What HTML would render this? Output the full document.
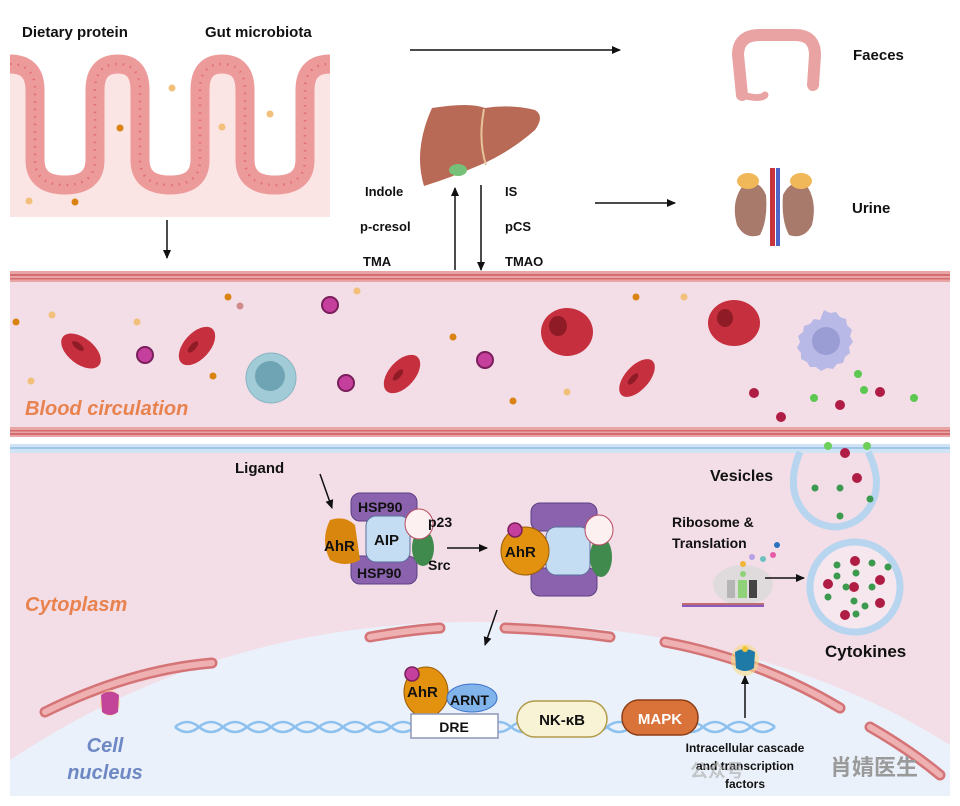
<!DOCTYPE html>
<html><head><meta charset="utf-8"><style>
html,body{margin:0;padding:0;background:#fff}
svg{display:block}
text{font-family:"Liberation Sans",Arial,sans-serif;font-weight:bold;fill:#111}
</style></head><body>
<svg width="960" height="806" viewBox="0 0 960 806" xmlns="http://www.w3.org/2000/svg">
<defs>
<marker id="ar" markerWidth="10" markerHeight="10" refX="8" refY="5" orient="auto" markerUnits="userSpaceOnUse"><path d="M0,1 L9,5 L0,9 Z" fill="#111"/></marker>
</defs>
<!-- intestine -->
<path d="M10,64 Q35,64 35,90 L35,160 Q35,185 65,185 Q95,185 95,160 L95,90 Q95,64 118,64 Q140,64 140,90 L140,160 Q140,185 170,185 Q200,185 200,160 L200,90 Q200,64 222,64 Q245,64 245,90 L245,160 Q245,185 275,185 Q305,185 305,160 L305,90 Q305,64 330,64 L330,217 L10,217 Z" fill="#fbe4e4"/>
<path d="M10,64 Q35,64 35,90 L35,160 Q35,185 65,185 Q95,185 95,160 L95,90 Q95,64 118,64 Q140,64 140,90 L140,160 Q140,185 170,185 Q200,185 200,160 L200,90 Q200,64 222,64 Q245,64 245,90 L245,160 Q245,185 275,185 Q305,185 305,160 L305,90 Q305,64 330,64" fill="none" stroke="#ec9a9a" stroke-width="19"/>
<path d="M10,64 Q35,64 35,90 L35,160 Q35,185 65,185 Q95,185 95,160 L95,90 Q95,64 118,64 Q140,64 140,90 L140,160 Q140,185 170,185 Q200,185 200,160 L200,90 Q200,64 222,64 Q245,64 245,90 L245,160 Q245,185 275,185 Q305,185 305,160 L305,90 Q305,64 330,64" fill="none" stroke="#e46f74" stroke-width="2.5" stroke-dasharray="1.5 6"/>
<g fill="#f2c07a"><circle cx="172" cy="88" r="3.5"/><circle cx="222" cy="127" r="3.5"/><circle cx="270" cy="114" r="3.5"/><circle cx="29" cy="201" r="3.5"/></g>
<g fill="#d98313"><circle cx="120" cy="128" r="3.5"/><circle cx="75" cy="202" r="3.5"/></g>
<text x="22" y="37" font-size="15">Dietary protein</text>
<text x="205" y="37" font-size="15">Gut microbiota</text>
<line x1="167" y1="220" x2="167" y2="258" stroke="#111" stroke-width="1.5" marker-end="url(#ar)"/>
<line x1="410" y1="50" x2="620" y2="50" stroke="#111" stroke-width="1.5" marker-end="url(#ar)"/>
<!-- colon -->
<path d="M742,95 L738,55 Q738,35 760,35 L795,35 Q815,35 815,55 L813,85" fill="none" stroke="#e9a3a3" stroke-width="12" stroke-linecap="round"/>
<path d="M742,95 Q760,100 765,95" fill="none" stroke="#e9a3a3" stroke-width="7" stroke-linecap="round"/>
<text x="853" y="60" font-size="15">Faeces</text>
<!-- liver -->
<path d="M432,108 Q470,102 485,108 Q510,104 535,110 Q545,116 535,130 Q510,152 480,165 Q450,178 424,186 Q413,150 432,108 Z" fill="#b86a57"/>
<path d="M484,109 Q478,140 486,165" stroke="#e7c39c" stroke-width="2" fill="none"/>
<ellipse cx="458" cy="170" rx="9" ry="6" fill="#77c07a"/>
<line x1="455" y1="270" x2="455" y2="188" stroke="#111" stroke-width="1.5" marker-end="url(#ar)"/>
<line x1="481" y1="185" x2="481" y2="270" stroke="#111" stroke-width="1.5" marker-end="url(#ar)"/>
<text x="365" y="196" font-size="13">Indole</text>
<text x="360" y="231" font-size="13">p-cresol</text>
<text x="363" y="266" font-size="13">TMA</text>
<text x="505" y="196" font-size="13">IS</text>
<text x="505" y="231" font-size="13">pCS</text>
<text x="505" y="266" font-size="13">TMAO</text>
<line x1="595" y1="203" x2="675" y2="203" stroke="#111" stroke-width="1.5" marker-end="url(#ar)"/>
<!-- kidneys -->
<path d="M745,183 Q760,180 766,195 Q768,220 760,235 Q745,240 737,225 Q730,200 745,183Z" fill="#a77a6c"/>
<path d="M805,183 Q790,180 783,195 Q781,220 789,235 Q804,240 812,225 Q818,200 805,183Z" fill="#a77a6c"/>
<ellipse cx="748" cy="181" rx="11" ry="8" fill="#f1b85a"/>
<ellipse cx="801" cy="181" rx="11" ry="8" fill="#f1b85a"/>
<rect x="770" y="168" width="5" height="78" fill="#c8343c"/><rect x="776" y="168" width="4" height="78" fill="#4e65c8"/>
<text x="852" y="213" font-size="15">Urine</text>
<!-- blood vessel -->
<rect x="10" y="272" width="940" height="162" fill="#f3dde6"/>
<rect x="10" y="271" width="940" height="11" fill="#e9a5a5"/>
<rect x="10" y="274" width="940" height="2" fill="#d46b6e"/><rect x="10" y="278" width="940" height="1.5" fill="#d46b6e"/>
<rect x="10" y="427" width="940" height="10" fill="#e9a5a5"/>
<rect x="10" y="430" width="940" height="1.5" fill="#d46b6e"/><rect x="10" y="433" width="940" height="2" fill="#d46b6e"/>
<g fill="#c52f3e">
<ellipse cx="81" cy="351" rx="23" ry="13" transform="rotate(38 81 351)"/>
<ellipse cx="197" cy="346" rx="23" ry="13" transform="rotate(-48 197 346)"/>
<ellipse cx="402" cy="374" rx="23" ry="13" transform="rotate(-48 402 374)"/>
<ellipse cx="637" cy="378" rx="23" ry="12" transform="rotate(-48 637 378)"/>
<ellipse cx="567" cy="332" rx="26" ry="24"/>
<ellipse cx="734" cy="323" rx="26" ry="23"/>
</g>
<g fill="#8e1b26"><ellipse cx="558" cy="326" rx="9" ry="10"/><ellipse cx="725" cy="318" rx="8" ry="9"/>
<ellipse cx="78" cy="346" rx="7" ry="3" transform="rotate(38 78 346)"/><ellipse cx="193" cy="347" rx="7" ry="3" transform="rotate(-48 193 347)"/><ellipse cx="398" cy="375" rx="7" ry="3" transform="rotate(-48 398 375)"/><ellipse cx="633" cy="379" rx="7" ry="3" transform="rotate(-48 633 379)"/></g>
<circle cx="271" cy="378" r="25" fill="#a1ccd7" stroke="#86b4c0"/><circle cx="270" cy="376" r="15" fill="#6ea4b4"/>
<path d="M824,310 l6,3 6,-1 4,5 6,2 1,6 5,5 -2,6 3,6 -4,5 1,6 -5,4 -2,6 -6,1 -4,5 -6,-1 -6,3 -5,-4 -6,0 -3,-5 -6,-3 0,-6 -4,-5 3,-6 -2,-6 5,-4 1,-6 6,-2 4,-5 6,1z" fill="#b8b9e6"/><circle cx="826" cy="341" r="14" fill="#9a9cd4"/>
<g fill="#c53f9d" stroke="#7a1f5c" stroke-width="2"><circle cx="145" cy="355" r="8"/><circle cx="330" cy="305" r="8"/><circle cx="346" cy="383" r="8"/><circle cx="485" cy="360" r="8"/><circle cx="318" cy="455" r="8"/></g>
<g fill="#d98313"><circle cx="16" cy="322" r="3.5"/><circle cx="228" cy="297" r="3.5"/><circle cx="213" cy="376" r="3.5"/><circle cx="453" cy="337" r="3.5"/><circle cx="513" cy="401" r="3.5"/><circle cx="636" cy="297" r="3.5"/></g>
<g fill="#f2c07a"><circle cx="52" cy="315" r="3.5"/><circle cx="137" cy="322" r="3.5"/><circle cx="31" cy="381" r="3.5"/><circle cx="357" cy="291" r="3.5"/><circle cx="567" cy="392" r="3.5"/><circle cx="684" cy="297" r="3.5"/></g>
<circle cx="240" cy="306" r="3.5" fill="#d08a8e"/>
<g fill="#b01d44"><circle cx="754" cy="393" r="5"/><circle cx="840" cy="405" r="5"/><circle cx="880" cy="392" r="5"/><circle cx="781" cy="417" r="5"/></g>
<g fill="#5cc852"><circle cx="814" cy="398" r="4"/><circle cx="858" cy="374" r="4"/><circle cx="864" cy="390" r="4"/><circle cx="914" cy="398" r="4"/></g>
<text x="25" y="415" font-size="20" font-style="italic" font-weight="normal" style="fill:#e8824e">Blood circulation</text>
<!-- cytoplasm -->
<rect x="10" y="446" width="940" height="350" fill="#f3dde6"/>
<rect x="10" y="444" width="940" height="9" fill="#cfe3f5"/>
<rect x="10" y="447" width="940" height="2" fill="#9ec7ea"/>
<!-- nucleus -->
<path d="M10,760 Q220,620 480,622 Q760,625 950,745 L950,796 L10,796 Z" fill="#eaf1fa"/>
<g fill="none" stroke="#d57477" stroke-width="11" stroke-linecap="round">
<path d="M45,712 Q130,670 212,663"/><path d="M370,637 Q410,630 440,628"/><path d="M505,628 Q560,630 610,637"/><path d="M665,642 Q760,660 840,708"/><path d="M870,727 Q910,750 940,775"/>
</g>
<g fill="none" stroke="#eeb0b0" stroke-width="6" stroke-linecap="round">
<path d="M45,712 Q130,670 212,663"/><path d="M370,637 Q410,630 440,628"/><path d="M505,628 Q560,630 610,637"/><path d="M665,642 Q760,660 840,708"/><path d="M870,727 Q910,750 940,775"/>
</g>
<g fill="none" stroke="#8cc0ee" stroke-width="2.5">
<path d="M175,727 q12,-10 24,0 t24,0 t24,0 t24,0 t24,0 t24,0 t24,0 t24,0 t24,0 t24,0 t24,0 t24,0 t24,0 t24,0 t24,0 t24,0 t24,0 t24,0 t24,0 t24,0 t24,0 t24,0 t24,0 t24,0 t24,0"/>
<path d="M175,727 q12,10 24,0 t24,0 t24,0 t24,0 t24,0 t24,0 t24,0 t24,0 t24,0 t24,0 t24,0 t24,0 t24,0 t24,0 t24,0 t24,0 t24,0 t24,0 t24,0 t24,0 t24,0 t24,0 t24,0 t24,0 t24,0"/>
</g>
<ellipse cx="110" cy="703" rx="10" ry="13" fill="#f6dc88" opacity=".6"/>
<path d="M101,695 Q110,688 119,695 L118,712 Q110,718 102,712 Z" fill="#c2459a"/>
<text x="25" y="611" font-size="20" font-style="italic" font-weight="normal" style="fill:#e8824e">Cytoplasm</text>
<text x="105" y="752" font-size="20" font-style="italic" font-weight="normal" text-anchor="middle" style="fill:#6e88c4">Cell</text>
<text x="105" y="779" font-size="20" font-style="italic" font-weight="normal" text-anchor="middle" style="fill:#6e88c4">nucleus</text>
<!-- ligand complex -->
<text x="235" y="473" font-size="15">Ligand</text>
<line x1="320" y1="474" x2="332" y2="508" stroke="#111" stroke-width="1.5" marker-end="url(#ar)"/>
<rect x="351" y="493" width="66" height="28" rx="9" fill="#8a62ad" stroke="#5e3f85"/>
<rect x="351" y="556" width="66" height="28" rx="9" fill="#8a62ad" stroke="#5e3f85"/>
<path d="M330,520 Q345,515 355,525 L360,560 Q345,568 330,560 Q320,540 330,520Z" fill="#d9860f"/>
<rect x="366" y="516" width="44" height="46" rx="10" fill="#c5ddf2" stroke="#5b6e9a"/>
<ellipse cx="423" cy="548" rx="11" ry="18" fill="#3f8a4c"/>
<ellipse cx="419" cy="524" rx="14" ry="15" fill="#fdf0f0" stroke="#b84a62"/>
<text x="358" y="512" font-size="14">HSP90</text>
<text x="357" y="578" font-size="14">HSP90</text>
<text x="324" y="551" font-size="15">AhR</text>
<text x="374" y="545" font-size="15">AIP</text>
<text x="428" y="527" font-size="14">p23</text>
<text x="428" y="570" font-size="14">Src</text>
<line x1="447" y1="548" x2="487" y2="548" stroke="#111" stroke-width="1.5" marker-end="url(#ar)"/>
<rect x="531" y="503" width="66" height="28" rx="9" fill="#8a62ad" stroke="#5e3f85"/>
<rect x="531" y="568" width="66" height="28" rx="9" fill="#8a62ad" stroke="#5e3f85"/>
<rect x="546" y="527" width="44" height="48" rx="10" fill="#c5ddf2" stroke="#5b6e9a"/>
<ellipse cx="601" cy="557" rx="11" ry="20" fill="#3f8a4c"/>
<ellipse cx="599" cy="530" rx="14" ry="15" fill="#fdf0f0" stroke="#b84a62"/>
<circle cx="525" cy="551" r="24" fill="#e3920f" stroke="#9b5c08"/>
<circle cx="515" cy="530" r="7" fill="#c53f9d" stroke="#7a1f5c" stroke-width="1.5"/>
<text x="505" y="557" font-size="15">AhR</text>
<line x1="497" y1="610" x2="485" y2="645" stroke="#111" stroke-width="1.5" marker-end="url(#ar)"/>
<!-- vesicles -->
<path d="M800,452 Q790,475 795,495 Q805,525 835,527 Q865,525 875,495 Q880,475 868,452" fill="none" stroke="#b7d5ef" stroke-width="7"/>
<g fill="#b01d44"><circle cx="845" cy="453" r="5"/><circle cx="857" cy="478" r="5"/></g>
<g fill="#3b9a4e"><circle cx="815" cy="488" r="3.5"/><circle cx="840" cy="488" r="3.5"/><circle cx="870" cy="499" r="3.5"/><circle cx="840" cy="516" r="3.5"/></g>
<g fill="#6ecf5a"><circle cx="828" cy="446" r="4"/><circle cx="867" cy="446" r="4"/></g>
<circle cx="855" cy="587" r="45" fill="#f6e6ee" stroke="#b7d5ef" stroke-width="7"/>
<g fill="#b01d44"><circle cx="855" cy="561" r="5"/><circle cx="828" cy="584" r="5"/><circle cx="854" cy="587" r="5"/><circle cx="880" cy="580" r="5"/><circle cx="880" cy="603" r="5"/><circle cx="845" cy="615" r="5"/></g>
<g fill="#3b9a4e"><circle cx="837" cy="565" r="3.5"/><circle cx="872" cy="563" r="3.5"/><circle cx="888" cy="567" r="3.5"/><circle cx="837" cy="576" r="3.5"/><circle cx="856" cy="573" r="3.5"/><circle cx="846" cy="587" r="3.5"/><circle cx="872" cy="587" r="3.5"/><circle cx="828" cy="597" r="3.5"/><circle cx="854" cy="601" r="3.5"/><circle cx="865" cy="606" r="3.5"/><circle cx="856" cy="614" r="3.5"/></g>
<text x="710" y="481" font-size="16">Vesicles</text>
<text x="672" y="527" font-size="14">Ribosome &amp;</text>
<text x="672" y="548" font-size="14">Translation</text>
<ellipse cx="743" cy="585" rx="30" ry="20" fill="#d9d9d9" opacity=".8"/>
<rect x="727" y="580" width="8" height="18" fill="#b5b5b5"/><rect x="738" y="580" width="9" height="18" fill="#8fd27a"/><rect x="749" y="580" width="8" height="18" fill="#444"/>
<rect x="682" y="603" width="82" height="4" fill="#8a5ac0"/><rect x="682" y="603" width="82" height="2" fill="#e07a3a" opacity=".6"/>
<g><circle cx="743" cy="574" r="3" fill="#8fd27a"/><circle cx="743" cy="564" r="3" fill="#f1b53a"/><circle cx="752" cy="557" r="3" fill="#b6a2e6"/><circle cx="763" cy="559" r="3" fill="#6cc2c0"/><circle cx="773" cy="555" r="3" fill="#e65aa8"/><circle cx="777" cy="545" r="3" fill="#2a72c0"/></g>
<line x1="765" y1="578" x2="804" y2="578" stroke="#111" stroke-width="1.5" marker-end="url(#ar)"/>
<text x="825" y="657" font-size="17">Cytokines</text>
<!-- nucleus contents -->
<ellipse cx="426" cy="692" rx="22" ry="25" fill="#e3920f" stroke="#9b5c08"/>
<circle cx="412" cy="674" r="7" fill="#c53f9d" stroke="#7a1f5c" stroke-width="1.5"/>
<ellipse cx="472" cy="698" rx="25" ry="14" fill="#82b4ec" stroke="#3d73c8"/>
<text x="407" y="697" font-size="15">AhR</text>
<text x="450" y="705" font-size="14">ARNT</text>
<rect x="411" y="714" width="87" height="24" fill="#fff" stroke="#8d98b8" stroke-width="1.5"/>
<text x="454" y="732" font-size="14" text-anchor="middle">DRE</text>
<rect x="517" y="701" width="90" height="36" rx="18" fill="#f9f3d6" stroke="#b39a4a" stroke-width="1.5"/>
<text x="562" y="725" font-size="15" text-anchor="middle">NK-κB</text>
<rect x="622" y="700" width="76" height="35" rx="17" fill="#d9733a" stroke="#8d3f17" stroke-width="1.5"/>
<text x="660" y="724" font-size="15" text-anchor="middle" style="fill:#fff">MAPK</text>
<line x1="745" y1="718" x2="745" y2="676" stroke="#111" stroke-width="1.5" marker-end="url(#ar)"/>
<ellipse cx="745" cy="660" rx="14" ry="16" fill="#f6dc88" opacity=".6"/>
<path d="M735,652 Q745,646 755,652 L754,668 Q745,674 736,668 Z" fill="#1f7aa8"/>
<circle cx="745" cy="649" r="3" fill="#f1c43a"/>
<text x="745" y="752" font-size="12" text-anchor="middle">Intracellular cascade</text>
<text x="745" y="770" font-size="12" text-anchor="middle">and transcription</text>
<text x="745" y="788" font-size="12" text-anchor="middle">factors</text>
<text x="830" y="775" font-size="22" font-weight="normal" style="fill:#9a9a9a;font-family:'Liberation Sans','Noto Sans CJK SC',sans-serif">肖婧医生</text>
<text x="690" y="777" font-size="18" font-weight="normal" style="fill:#aaa;opacity:.6;font-family:'Liberation Sans','Noto Sans CJK SC',sans-serif">公众号</text>
</svg>
</body></html>
